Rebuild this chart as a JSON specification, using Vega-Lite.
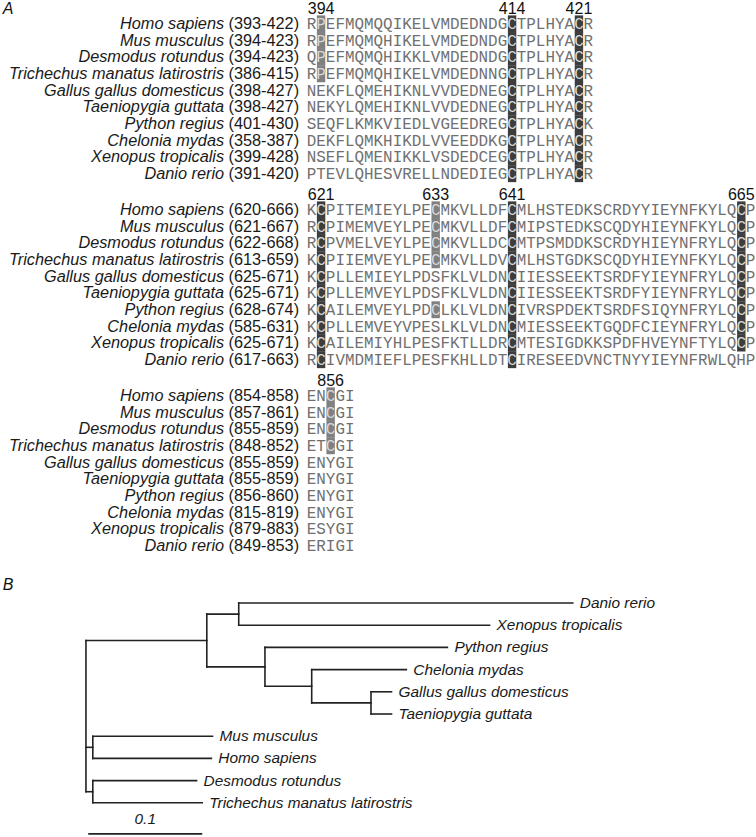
{
  "$schema": "https://vega.github.io/schema/vega-lite/v6.json",
  "padding": 0,
  "spacing": 0,
  "bounds": "flush",
  "config": {"view": {"stroke": null}},
  "resolve": {"scale": {"x": "independent", "y": "independent", "color": "independent"}},
  "datasets": {
    "seq": [
      {"b":1,"r":0,"species":"Homo sapiens","range":"(393-422)","seq":"RPEFMQMQQIKELVMDEDNDGCTPLHYACR"},
      {"b":1,"r":1,"species":"Mus musculus","range":"(394-423)","seq":"RPEFMQMQHIKELVMDEDNDGCTPLHYACR"},
      {"b":1,"r":2,"species":"Desmodus rotundus","range":"(394-423)","seq":"QPEFMQMQHIKKLVMDEDNDGCTPLHYACR"},
      {"b":1,"r":3,"species":"Trichechus manatus latirostris","range":"(386-415)","seq":"RPEFMQMQHIKELVMDEDNNGCTPLHYACR"},
      {"b":1,"r":4,"species":"Gallus gallus domesticus","range":"(398-427)","seq":"NEKFLQMEHIKNLVVDEDNEGCTPLHYACR"},
      {"b":1,"r":5,"species":"Taeniopygia guttata","range":"(398-427)","seq":"NEKYLQMEHIKNLVVDEDNEGCTPLHYACR"},
      {"b":1,"r":6,"species":"Python regius","range":"(401-430)","seq":"SEQFLKMKVIEDLVGEEDREGCTPLHYACK"},
      {"b":1,"r":7,"species":"Chelonia mydas","range":"(358-387)","seq":"DEKFLQMKHIKDLVVEEDDKGCTPLHYACR"},
      {"b":1,"r":8,"species":"Xenopus tropicalis","range":"(399-428)","seq":"NSEFLQMENIKKLVSDEDCEGCTPLHYACR"},
      {"b":1,"r":9,"species":"Danio rerio","range":"(391-420)","seq":"PTEVLQHESVRELLNDEDIEGCTPLHYACR"},
      {"b":2,"r":0,"species":"Homo sapiens","range":"(620-666)","seq":"KCPITEMIEYLPECMKVLLDFCMLHSTEDKSCRDYYIEYNFKYLQCP"},
      {"b":2,"r":1,"species":"Mus musculus","range":"(621-667)","seq":"RCPIMEMVEYLPECMKVLLDFCMIPSTEDKSCQDYHIEYNFKYLQCP"},
      {"b":2,"r":2,"species":"Desmodus rotundus","range":"(622-668)","seq":"RCPVMELVEYLPECMKVLLDCCMTPSMDDKSCRDYHIEYNFRYLQCP"},
      {"b":2,"r":3,"species":"Trichechus manatus latirostris","range":"(613-659)","seq":"KCPIIEMVEYLPECMKVLLDVCMLHSTGDKSCQDYHIEYNFKYLQCP"},
      {"b":2,"r":4,"species":"Gallus gallus domesticus","range":"(625-671)","seq":"KCPLLEMIEYLPDSFKLVLDNCIIESSEEKTSRDFYIEYNFRYLQCP"},
      {"b":2,"r":5,"species":"Taeniopygia guttata","range":"(625-671)","seq":"KCPLLEMVEYLPDSFKLVLDNCIIESSEEKTSRDFYIEYNFRYLQCP"},
      {"b":2,"r":6,"species":"Python regius","range":"(628-674)","seq":"KCAILEMVEYLPDCLKLVLDNCIVRSPDEKTSRDFSIQYNFRYLQCP"},
      {"b":2,"r":7,"species":"Chelonia mydas","range":"(585-631)","seq":"KCPLLEMVEYVPESLKLVLDNCMIESSEEKTGQDFCIEYNFRYLQCP"},
      {"b":2,"r":8,"species":"Xenopus tropicalis","range":"(625-671)","seq":"KCAILEMIYHLPESFKTLLDRCMTESIGDKKSPDFHVEYNFTYLQCP"},
      {"b":2,"r":9,"species":"Danio rerio","range":"(617-663)","seq":"RCIVMDMIEFLPESFKHLLDTCIRESEEDVNCTNYYIEYNFRWLQHP"},
      {"b":3,"r":0,"species":"Homo sapiens","range":"(854-858)","seq":"ENCGI"},
      {"b":3,"r":1,"species":"Mus musculus","range":"(857-861)","seq":"ENCGI"},
      {"b":3,"r":2,"species":"Desmodus rotundus","range":"(855-859)","seq":"ENCGI"},
      {"b":3,"r":3,"species":"Trichechus manatus latirostris","range":"(848-852)","seq":"ETCGI"},
      {"b":3,"r":4,"species":"Gallus gallus domesticus","range":"(855-859)","seq":"ENYGI"},
      {"b":3,"r":5,"species":"Taeniopygia guttata","range":"(855-859)","seq":"ENYGI"},
      {"b":3,"r":6,"species":"Python regius","range":"(856-860)","seq":"ENYGI"},
      {"b":3,"r":7,"species":"Chelonia mydas","range":"(815-819)","seq":"ENYGI"},
      {"b":3,"r":8,"species":"Xenopus tropicalis","range":"(879-883)","seq":"ESYGI"},
      {"b":3,"r":9,"species":"Danio rerio","range":"(849-853)","seq":"ERIGI"}
    ],
    "hl": [
      {"b":1,"r":0,"c":1,"aa":"P","shade":"gray"},{"b":1,"r":1,"c":1,"aa":"P","shade":"gray"},{"b":1,"r":2,"c":1,"aa":"P","shade":"gray"},{"b":1,"r":3,"c":1,"aa":"P","shade":"gray"},
      {"b":1,"r":0,"c":21,"aa":"C","shade":"dark"},{"b":1,"r":1,"c":21,"aa":"C","shade":"dark"},{"b":1,"r":2,"c":21,"aa":"C","shade":"dark"},{"b":1,"r":3,"c":21,"aa":"C","shade":"dark"},{"b":1,"r":4,"c":21,"aa":"C","shade":"dark"},{"b":1,"r":5,"c":21,"aa":"C","shade":"dark"},{"b":1,"r":6,"c":21,"aa":"C","shade":"dark"},{"b":1,"r":7,"c":21,"aa":"C","shade":"dark"},{"b":1,"r":8,"c":21,"aa":"C","shade":"dark"},{"b":1,"r":9,"c":21,"aa":"C","shade":"dark"},
      {"b":1,"r":0,"c":28,"aa":"C","shade":"dark"},{"b":1,"r":1,"c":28,"aa":"C","shade":"dark"},{"b":1,"r":2,"c":28,"aa":"C","shade":"dark"},{"b":1,"r":3,"c":28,"aa":"C","shade":"dark"},{"b":1,"r":4,"c":28,"aa":"C","shade":"dark"},{"b":1,"r":5,"c":28,"aa":"C","shade":"dark"},{"b":1,"r":6,"c":28,"aa":"C","shade":"dark"},{"b":1,"r":7,"c":28,"aa":"C","shade":"dark"},{"b":1,"r":8,"c":28,"aa":"C","shade":"dark"},{"b":1,"r":9,"c":28,"aa":"C","shade":"dark"},
      {"b":2,"r":0,"c":1,"aa":"C","shade":"dark"},{"b":2,"r":1,"c":1,"aa":"C","shade":"dark"},{"b":2,"r":2,"c":1,"aa":"C","shade":"dark"},{"b":2,"r":3,"c":1,"aa":"C","shade":"dark"},{"b":2,"r":4,"c":1,"aa":"C","shade":"dark"},{"b":2,"r":5,"c":1,"aa":"C","shade":"dark"},{"b":2,"r":6,"c":1,"aa":"C","shade":"dark"},{"b":2,"r":7,"c":1,"aa":"C","shade":"dark"},{"b":2,"r":8,"c":1,"aa":"C","shade":"dark"},{"b":2,"r":9,"c":1,"aa":"C","shade":"dark"},
      {"b":2,"r":0,"c":13,"aa":"C","shade":"gray"},{"b":2,"r":1,"c":13,"aa":"C","shade":"gray"},{"b":2,"r":2,"c":13,"aa":"C","shade":"gray"},{"b":2,"r":3,"c":13,"aa":"C","shade":"gray"},{"b":2,"r":6,"c":13,"aa":"C","shade":"gray"},
      {"b":2,"r":0,"c":21,"aa":"C","shade":"dark"},{"b":2,"r":1,"c":21,"aa":"C","shade":"dark"},{"b":2,"r":2,"c":21,"aa":"C","shade":"dark"},{"b":2,"r":3,"c":21,"aa":"C","shade":"dark"},{"b":2,"r":4,"c":21,"aa":"C","shade":"dark"},{"b":2,"r":5,"c":21,"aa":"C","shade":"dark"},{"b":2,"r":6,"c":21,"aa":"C","shade":"dark"},{"b":2,"r":7,"c":21,"aa":"C","shade":"dark"},{"b":2,"r":8,"c":21,"aa":"C","shade":"dark"},{"b":2,"r":9,"c":21,"aa":"C","shade":"dark"},
      {"b":2,"r":0,"c":45,"aa":"C","shade":"dark"},{"b":2,"r":1,"c":45,"aa":"C","shade":"dark"},{"b":2,"r":2,"c":45,"aa":"C","shade":"dark"},{"b":2,"r":3,"c":45,"aa":"C","shade":"dark"},{"b":2,"r":4,"c":45,"aa":"C","shade":"dark"},{"b":2,"r":5,"c":45,"aa":"C","shade":"dark"},{"b":2,"r":6,"c":45,"aa":"C","shade":"dark"},{"b":2,"r":7,"c":45,"aa":"C","shade":"dark"},{"b":2,"r":8,"c":45,"aa":"C","shade":"dark"},
      {"b":3,"r":0,"c":2,"aa":"C","shade":"gray"},{"b":3,"r":1,"c":2,"aa":"C","shade":"gray"},{"b":3,"r":2,"c":2,"aa":"C","shade":"gray"},{"b":3,"r":3,"c":2,"aa":"C","shade":"gray"}
    ],
    "pos": [
      {"b":1,"c":1,"label":"394"},{"b":1,"c":21,"label":"414"},{"b":1,"c":28,"label":"421"},
      {"b":2,"c":1,"label":"621"},{"b":2,"c":13,"label":"633"},{"b":2,"c":21,"label":"641"},{"b":2,"c":45,"label":"665"},
      {"b":3,"c":2,"label":"856"}
    ],
    "tree_h": [
      {"node":"NM","x0":0,"x1":0.106,"y":1.6875},
      {"node":"MH","x0":0,"x1":0.006,"y":6.5},
      {"node":"DT","x0":0,"x1":0.006,"y":8.5},
      {"node":"DX","x0":0.106,"x1":0.134,"y":0.5},
      {"node":"PCGT","x0":0.106,"x1":0.157,"y":2.875},
      {"node":"Danio","x0":0.134,"x1":0.427,"y":0,"label":"Danio rerio"},
      {"node":"Xenopus","x0":0.134,"x1":0.354,"y":1,"label":"Xenopus tropicalis"},
      {"node":"Python","x0":0.157,"x1":0.317,"y":2,"label":"Python regius"},
      {"node":"CGT","x0":0.157,"x1":0.198,"y":3.75},
      {"node":"Chelonia","x0":0.198,"x1":0.281,"y":3,"label":"Chelonia mydas"},
      {"node":"GT","x0":0.198,"x1":0.25,"y":4.5},
      {"node":"Gallus","x0":0.25,"x1":0.268,"y":4,"label":"Gallus gallus domesticus"},
      {"node":"Taeniopygia","x0":0.25,"x1":0.268,"y":5,"label":"Taeniopygia guttata"},
      {"node":"Mus","x0":0.006,"x1":0.111,"y":6,"label":"Mus musculus"},
      {"node":"Homo","x0":0.006,"x1":0.11,"y":7,"label":"Homo sapiens"},
      {"node":"Desmodus","x0":0.006,"x1":0.097,"y":8,"label":"Desmodus rotundus"},
      {"node":"Trichechus","x0":0.006,"x1":0.102,"y":9,"label":"Trichechus manatus latirostris"}
    ],
    "tree_v": [
      {"node":"root","x":0,"y0":1.6875,"y1":8.5},
      {"node":"NM","x":0.106,"y0":0.5,"y1":2.875},
      {"node":"DX","x":0.134,"y0":0,"y1":1},
      {"node":"PCGT","x":0.157,"y0":2,"y1":3.75},
      {"node":"CGT","x":0.198,"y0":3,"y1":4.5},
      {"node":"GT","x":0.25,"y0":4,"y1":5},
      {"node":"MH","x":0.006,"y0":6,"y1":7},
      {"node":"DT","x":0.006,"y0":8,"y1":9}
    ],
    "scalebar": [{"start":0.002,"end":0.102,"label":"0.1"}]
  },
  "vconcat": [
    {
      "width": 756, "height": 186,
      "layer": [
        {"data":{"name":"seq"},"transform":[{"filter":"datum.b==1"}],
         "mark":{"type":"text","align":"right","baseline":"middle","font":"Liberation Sans","fontSize":16.3,"fontStyle":"italic","dx":-75,"color":"#1a1a1a"},
         "encoding":{"x":{"datum":-1.3,"type":"quantitative","scale":{"domain":[-32.62,46.54],"nice":false,"zero":false},"axis":null},
                     "y":{"field":"r","type":"quantitative","scale":{"domain":[-1.32,9.85],"nice":false,"zero":false,"reverse":true},"axis":null},
                     "text":{"field":"species"}}},
        {"data":{"name":"seq"},"transform":[{"filter":"datum.b==1"}],
         "mark":{"type":"text","align":"right","baseline":"middle","font":"Liberation Sans","fontSize":16.3,"color":"#1a1a1a"},
         "encoding":{"x":{"datum":-1.3,"type":"quantitative","axis":null},"y":{"field":"r","type":"quantitative","axis":null},"text":{"field":"range"}}},
        {"data":{"name":"seq"},"transform":[{"filter":"datum.b==1"}],
         "mark":{"type":"text","align":"left","baseline":"middle","font":"Liberation Mono","fontSize":15.92,"color":"#707070"},
         "encoding":{"x":{"datum":-0.5,"type":"quantitative","axis":null},"y":{"field":"r","type":"quantitative","axis":null},"text":{"field":"seq"}}},
        {"data":{"name":"hl"},"transform":[{"filter":"datum.b==1"}],
         "mark":{"type":"rect","xOffset":-4.2,"x2Offset":4.2,"yOffset":-8.6,"y2Offset":8.3},
         "encoding":{"x":{"field":"c","type":"quantitative","axis":null},"x2":{"field":"c"},"y":{"field":"r","type":"quantitative","axis":null},"y2":{"field":"r"},
                     "color":{"field":"shade","type":"nominal","scale":{"domain":["dark","gray"],"range":["#3d3d3d","#808080"]},"legend":null}}},
        {"data":{"name":"hl"},"transform":[{"filter":"datum.b==1"}],
         "mark":{"type":"text","align":"center","baseline":"middle","font":"Liberation Mono","fontSize":15.92,"color":"#d8d8d8"},
         "encoding":{"x":{"field":"c","type":"quantitative","axis":null},"y":{"field":"r","type":"quantitative","axis":null},"text":{"field":"aa"}}},
        {"data":{"name":"pos"},"transform":[{"filter":"datum.b==1"}],
         "mark":{"type":"text","align":"center","baseline":"middle","font":"Liberation Sans","fontSize":16,"color":"#111111"},
         "encoding":{"x":{"field":"c","type":"quantitative","axis":null},"y":{"datum":-0.9,"type":"quantitative","axis":null},"text":{"field":"label"}}},
        {"data":{"values":[{"panel":"A"}]},
         "mark":{"type":"text","align":"center","baseline":"middle","font":"Liberation Sans","fontSize":16,"fontStyle":"italic","color":"#111111"},
         "encoding":{"x":{"datum":-31.78,"type":"quantitative","axis":null},"y":{"datum":-0.88,"type":"quantitative","axis":null},"text":{"field":"panel"}}}
      ]
    },
    {
      "width": 756, "height": 186,
      "layer": [
        {"data":{"name":"seq"},"transform":[{"filter":"datum.b==2"}],
         "mark":{"type":"text","align":"right","baseline":"middle","font":"Liberation Sans","fontSize":16.3,"fontStyle":"italic","dx":-75,"color":"#1a1a1a"},
         "encoding":{"x":{"datum":-1.3,"type":"quantitative","scale":{"domain":[-32.62,46.54],"nice":false,"zero":false},"axis":null},
                     "y":{"field":"r","type":"quantitative","scale":{"domain":[-1.32,9.85],"nice":false,"zero":false,"reverse":true},"axis":null},
                     "text":{"field":"species"}}},
        {"data":{"name":"seq"},"transform":[{"filter":"datum.b==2"}],
         "mark":{"type":"text","align":"right","baseline":"middle","font":"Liberation Sans","fontSize":16.3,"color":"#1a1a1a"},
         "encoding":{"x":{"datum":-1.3,"type":"quantitative","axis":null},"y":{"field":"r","type":"quantitative","axis":null},"text":{"field":"range"}}},
        {"data":{"name":"seq"},"transform":[{"filter":"datum.b==2"}],
         "mark":{"type":"text","align":"left","baseline":"middle","font":"Liberation Mono","fontSize":15.92,"color":"#707070"},
         "encoding":{"x":{"datum":-0.5,"type":"quantitative","axis":null},"y":{"field":"r","type":"quantitative","axis":null},"text":{"field":"seq"}}},
        {"data":{"name":"hl"},"transform":[{"filter":"datum.b==2"}],
         "mark":{"type":"rect","xOffset":-4.2,"x2Offset":4.2,"yOffset":-8.6,"y2Offset":8.3},
         "encoding":{"x":{"field":"c","type":"quantitative","axis":null},"x2":{"field":"c"},"y":{"field":"r","type":"quantitative","axis":null},"y2":{"field":"r"},
                     "color":{"field":"shade","type":"nominal","scale":{"domain":["dark","gray"],"range":["#3d3d3d","#808080"]},"legend":null}}},
        {"data":{"name":"hl"},"transform":[{"filter":"datum.b==2"}],
         "mark":{"type":"text","align":"center","baseline":"middle","font":"Liberation Mono","fontSize":15.92,"color":"#d8d8d8"},
         "encoding":{"x":{"field":"c","type":"quantitative","axis":null},"y":{"field":"r","type":"quantitative","axis":null},"text":{"field":"aa"}}},
        {"data":{"name":"pos"},"transform":[{"filter":"datum.b==2"}],
         "mark":{"type":"text","align":"center","baseline":"middle","font":"Liberation Sans","fontSize":16,"color":"#111111"},
         "encoding":{"x":{"field":"c","type":"quantitative","axis":null},"y":{"datum":-0.9,"type":"quantitative","axis":null},"text":{"field":"label"}}}
      ]
    },
    {
      "width": 756, "height": 186,
      "layer": [
        {"data":{"name":"seq"},"transform":[{"filter":"datum.b==3"}],
         "mark":{"type":"text","align":"right","baseline":"middle","font":"Liberation Sans","fontSize":16.3,"fontStyle":"italic","dx":-75,"color":"#1a1a1a"},
         "encoding":{"x":{"datum":-1.3,"type":"quantitative","scale":{"domain":[-32.62,46.54],"nice":false,"zero":false},"axis":null},
                     "y":{"field":"r","type":"quantitative","scale":{"domain":[-1.32,9.85],"nice":false,"zero":false,"reverse":true},"axis":null},
                     "text":{"field":"species"}}},
        {"data":{"name":"seq"},"transform":[{"filter":"datum.b==3"}],
         "mark":{"type":"text","align":"right","baseline":"middle","font":"Liberation Sans","fontSize":16.3,"color":"#1a1a1a"},
         "encoding":{"x":{"datum":-1.3,"type":"quantitative","axis":null},"y":{"field":"r","type":"quantitative","axis":null},"text":{"field":"range"}}},
        {"data":{"name":"seq"},"transform":[{"filter":"datum.b==3"}],
         "mark":{"type":"text","align":"left","baseline":"middle","font":"Liberation Mono","fontSize":15.92,"color":"#707070"},
         "encoding":{"x":{"datum":-0.5,"type":"quantitative","axis":null},"y":{"field":"r","type":"quantitative","axis":null},"text":{"field":"seq"}}},
        {"data":{"name":"hl"},"transform":[{"filter":"datum.b==3"}],
         "mark":{"type":"rect","xOffset":-4.2,"x2Offset":4.2,"yOffset":-8.6,"y2Offset":8.3},
         "encoding":{"x":{"field":"c","type":"quantitative","axis":null},"x2":{"field":"c"},"y":{"field":"r","type":"quantitative","axis":null},"y2":{"field":"r"},
                     "color":{"field":"shade","type":"nominal","scale":{"domain":["dark","gray"],"range":["#3d3d3d","#808080"]},"legend":null}}},
        {"data":{"name":"hl"},"transform":[{"filter":"datum.b==3"}],
         "mark":{"type":"text","align":"center","baseline":"middle","font":"Liberation Mono","fontSize":15.92,"color":"#d8d8d8"},
         "encoding":{"x":{"field":"c","type":"quantitative","axis":null},"y":{"field":"r","type":"quantitative","axis":null},"text":{"field":"aa"}}},
        {"data":{"name":"pos"},"transform":[{"filter":"datum.b==3"}],
         "mark":{"type":"text","align":"center","baseline":"middle","font":"Liberation Sans","fontSize":16,"color":"#111111"},
         "encoding":{"x":{"field":"c","type":"quantitative","axis":null},"y":{"datum":-0.9,"type":"quantitative","axis":null},"text":{"field":"label"}}}
      ]
    },
    {
      "width": 756, "height": 279,
      "layer": [
        {"data":{"name":"tree_h"},
         "mark":{"type":"rule","color":"#222222","strokeWidth":1.6,"strokeCap":"square"},
         "encoding":{"x":{"field":"x0","type":"quantitative","scale":{"domain":[-0.0754,0.5877],"nice":false,"zero":false},"axis":null},"x2":{"field":"x1"},
                     "y":{"field":"y","type":"quantitative","scale":{"domain":[-1.937,10.63],"nice":false,"zero":false,"reverse":true},"axis":null}}},
        {"data":{"name":"tree_v"},
         "mark":{"type":"rule","color":"#222222","strokeWidth":1.6,"strokeCap":"square"},
         "encoding":{"x":{"field":"x","type":"quantitative","axis":null},"y":{"field":"y0","type":"quantitative","axis":null},"y2":{"field":"y1"}}},
        {"data":{"name":"tree_h"},"transform":[{"filter":"isValid(datum.label)"}],
         "mark":{"type":"text","align":"left","baseline":"middle","dx":7,"font":"Liberation Sans","fontSize":15.4,"fontStyle":"italic","color":"#1a1a1a"},
         "encoding":{"x":{"field":"x1","type":"quantitative","axis":null},"y":{"field":"y","type":"quantitative","axis":null},"text":{"field":"label"}}},
        {"data":{"name":"scalebar"},
         "mark":{"type":"rule","color":"#222222","strokeWidth":1.6},
         "encoding":{"x":{"field":"start","type":"quantitative","axis":null},"x2":{"field":"end"},"y":{"datum":10.4,"type":"quantitative","axis":null}}},
        {"data":{"name":"scalebar"},
         "mark":{"type":"text","align":"center","baseline":"middle","font":"Liberation Sans","fontSize":15.4,"fontStyle":"italic","color":"#1a1a1a"},
         "encoding":{"x":{"datum":0.052,"type":"quantitative","axis":null},"y":{"datum":9.73,"type":"quantitative","axis":null},"text":{"field":"label"}}},
        {"data":{"values":[{"panel":"B"}]},
         "mark":{"type":"text","align":"center","baseline":"middle","font":"Liberation Sans","fontSize":16,"fontStyle":"italic","color":"#111111"},
         "encoding":{"x":{"datum":-0.0684,"type":"quantitative","axis":null},"y":{"datum":-0.81,"type":"quantitative","axis":null},"text":{"field":"panel"}}}
      ]
    }
  ]
}
